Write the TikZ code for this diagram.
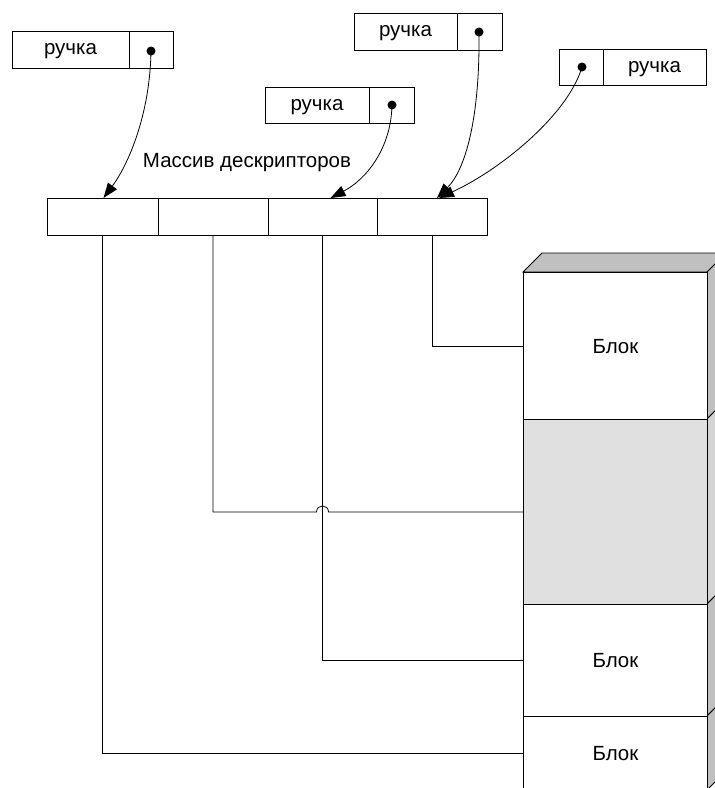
\documentclass[tikz,border=0pt]{standalone}
\usepackage{fontspec}
\setmainfont{Liberation Sans}
\usetikzlibrary{arrows.meta,calc}

\definecolor{sidegray}{HTML}{C0C0C0}
\definecolor{lightgray}{HTML}{E0E0E0}
\definecolor{lightside}{HTML}{D4D4D4}

\tikzset{
  % lower-case labels are centred on their x-height, capitalised ones on cap height
  lbl/.style={font=\fontsize{20.5}{24}\selectfont, text height=10.6pt, text depth=0pt},
  caplbl/.style={font=\fontsize{20.5}{24}\selectfont, text height=14.7pt, text depth=0pt},
  cell/.style={draw, line width=0.9pt, minimum height=37pt, inner sep=0pt, outer sep=0pt},
  dot/.style={circle, fill=black, minimum size=9pt, inner sep=0pt},
  link/.style={line width=0.8pt, -{Triangle[length=15pt,width=11pt]}},
  wire/.style={line width=0.8pt},
  face/.style={draw, line width=0.9pt},
}

\begin{document}
\begin{tikzpicture}[x=1pt,y=-1pt]
  \clip (0,0) rectangle (715,788);
  \fill[white] (0,0) rectangle (715,788);

  % ---------- handles ----------
  \node[cell, minimum width=117pt, lbl, anchor=north west] (h1t) at (12,31) {ручка};
  \node[cell, minimum width=44pt, anchor=north west] (h1p) at (h1t.north east) {};
  \node[dot] (d1) at (151,51) {};

  \node[cell, minimum width=103pt, minimum height=37pt, lbl, anchor=north west] (h2t) at (354,13) {ручка};
  \node[cell, minimum width=45pt, minimum height=37pt, anchor=north west] (h2p) at (h2t.north east) {};
  \node[dot] (d2) at (479,32) {};

  \node[cell, minimum width=104pt, minimum height=36pt, lbl, anchor=north west] (h3t) at (265,87) {ручка};
  \node[cell, minimum width=45pt, minimum height=36pt, anchor=north west] (h3p) at (h3t.north east) {};
  \node[dot] (d3) at (392,105) {};

  \node[cell, minimum width=44pt, minimum height=36pt, anchor=north west] (h4p) at (559,49) {};
  \node[cell, minimum width=103pt, minimum height=36pt, lbl, anchor=north west] (h4t) at (h4p.north east) {ручка};
  \node[dot] (d4) at (582,67) {};

  % ---------- descriptor array ----------
  \node[caplbl] (title) at (247,160) {Массив дескрипторов};
  \node[cell, minimum width=111pt, anchor=north west] (c1) at (47,198) {};
  \node[cell, minimum width=110pt, anchor=north west] (c2) at (c1.north east) {};
  \node[cell, minimum width=109pt, anchor=north west] (c3) at (c2.north east) {};
  \node[cell, minimum width=110pt, anchor=north west] (c4) at (c3.north east) {};

  % ---------- stacked blocks (3-D column) ----------
  % top face
  \filldraw[face, fill=sidegray] (523,272) -- (542,253) -- (740,253) -- (707,272) -- cycle;
  % right faces
  \filldraw[face, fill=sidegray]  (707,272) -- (726,253) -- (726,400) -- (707,419) -- cycle;
  \filldraw[face, fill=lightside] (707,419) -- (726,400) -- (726,585) -- (707,604) -- cycle;
  \filldraw[face, fill=sidegray]  (707,604) -- (726,585) -- (726,697) -- (707,716) -- cycle;
  \filldraw[face, fill=sidegray]  (707,716) -- (726,697) -- (726,771) -- (707,790) -- cycle;
  % front faces
  \node[face, fill=white, caplbl, minimum width=184pt, minimum height=147pt, inner sep=0pt, anchor=north west] (b1) at (523,272) {Блок};
  \node[face, fill=lightgray, minimum width=184pt, minimum height=185pt, inner sep=0pt, anchor=north west] (b2) at (523,419) {};
  \node[face, fill=white, caplbl, minimum width=184pt, minimum height=112pt, inner sep=0pt, anchor=north west] (b3) at (523,604) {Блок};
  \node[face, fill=white, caplbl, minimum width=184pt, minimum height=74pt, inner sep=0pt, anchor=north west] (b4) at (523,716) {Блок};

  % ---------- handle pointers ----------
  \draw[link] (d1.center) .. controls (150,115) and (128,165) .. ($(c1.north)+(1,0)$);
  \draw[link] (d3.center) .. controls (391,150) and (365,180) .. ($(c3.north)+(8,0)$);
  \draw[link] (d2.center) .. controls (480,120) and (465,170) .. ($(c4.north)+(5,0)$);
  \draw[link] (d4.center) .. controls (568,115) and (500,170) .. ($(c4.north)+(7,0)$);

  % ---------- descriptor links to blocks ----------
  \draw[wire] (c4.south) |- (b1.west);
  \draw[wire] (c2.south) -- (c2.south |- b2.west)
     -- ($(c3.south |- b2.west)+(-6,0)$)
     .. controls +(0,-8) and +(0,-8) .. ($(c3.south |- b2.west)+(6,0)$)
     -- (b2.west);
  \draw[wire] (c3.south) |- (b3.west);
  \draw[wire] (c1.south) |- (b4.west);
\end{tikzpicture}
\end{document}
